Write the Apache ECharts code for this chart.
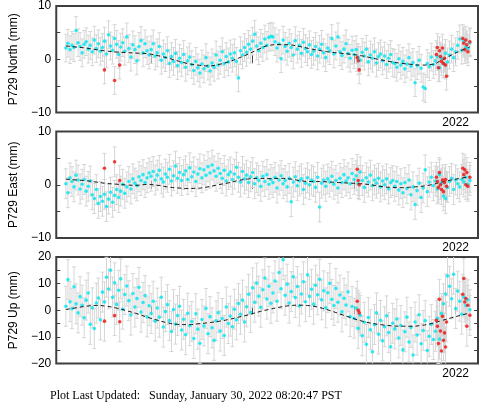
<!DOCTYPE html>
<html><head><meta charset="utf-8">
<script src="https://cdn.jsdelivr.net/npm/echarts@6/dist/echarts.min.js"></script>
<style>html,body{margin:0;padding:0;background:#fff}#c{width:481px;height:404px}</style>
</head><body><div id="c"></div>
<script>
// ---- data (decimal years, mm) ----
const times = [
2018.16,2018.18,2018.20,2018.22,2018.24,2018.26,2018.28,2018.30,2018.32,2018.34,2018.36,2018.38,2018.40,2018.42,2018.44,2018.46,2018.48,2018.50,2018.52,2018.54,2018.56,2018.58,2018.60,2018.62,2018.64,2018.66,2018.68,2018.70,2018.72,2018.74,2018.76,2018.78,2018.80,2018.82,2018.84,2018.86,2018.88,2018.90,2018.92,2018.94,2018.96,2018.98,
2019.00,2019.02,2019.04,2019.06,2019.08,2019.10,2019.12,2019.14,2019.16,2019.18,2019.20,2019.22,2019.24,2019.26,2019.28,2019.30,2019.32,2019.34,2019.36,2019.38,2019.40,2019.42,2019.44,2019.46,2019.48,2019.50,2019.52,2019.54,2019.56,2019.58,2019.60,2019.62,2019.64,2019.66,2019.68,2019.70,2019.72,2019.74,2019.76,2019.78,2019.80,2019.82,2019.84,2019.86,2019.88,2019.90,2019.92,2019.94,2019.96,2019.98,
2020.00,2020.02,2020.04,2020.06,2020.08,2020.10,2020.12,2020.14,2020.16,2020.18,2020.20,2020.22,2020.24,2020.26,2020.28,2020.30,2020.32,2020.34,2020.36,2020.38,2020.40,2020.42,2020.44,2020.46,2020.48,2020.50,2020.52,2020.54,2020.56,2020.58,2020.60,2020.62,2020.64,2020.66,2020.68,2020.70,2020.72,2020.74,2020.76,2020.78,2020.80,2020.82,2020.84,2020.86,2020.88,2020.90,2020.92,2020.94,2020.96,2020.98,
2021.00,2021.02,2021.04,2021.06,2021.08,2021.10,2021.12,2021.14,2021.16,2021.18,2021.20,2021.22,2021.24,2021.26,2021.28,2021.30,2021.32,2021.34,2021.36,2021.38,2021.40,2021.42,2021.44,2021.46,2021.48,2021.50,2021.52,2021.54,2021.56,2021.58,2021.60,2021.62,2021.64,2021.66,2021.68,2021.70,2021.72,2021.74,2021.76,2021.78,2021.80,2021.82,2021.84,2021.86,2021.88,2021.90,2021.92,2021.94,2021.96,2021.98,
2022.00,2022.02,2022.04,2022.06,2022.08,2022.10,2022.12,2022.14];

const north = [
2.1,3.0,1.8,2.6,2.2,5.4,3.1,2.4,1.2,2.8,3.3,1.9,2.6,1.4,3.6,2.0,2.9,1.5,
2.2,3.4,1.0,4.6,2.5,1.7,3.9,2.8,0.9,2.3,3.1,1.5,4.2,2.0,0.4,2.7,1.8,-0.3,2.4,3.5,1.2,2.9,1.6,0.8,
1.8,2.9,0.6,1.2,2.4,-0.2,1.0,0.3,1.6,-0.8,0.5,-0.4,1.1,-1.2,0.2,-0.6,0.9,-1.5,-0.3,0.4,
-1.0,-2.1,-0.4,-1.6,-2.6,-0.9,-1.8,0.3,-1.3,-2.2,-0.7,-1.5,0.8,-1.1,-0.2,1.4,-0.8,0.5,-0.5,1.0,
0.2,1.2,-0.4,-3.5,1.6,0.8,2.2,1.3,2.8,1.9,3.4,4.7,2.5,1.6,3.0,2.2,3.8,2.6,4.1,4.3,
4.2,3.3,2.1,2.9,0.1,3.6,2.4,1.5,3.0,2.2,0.8,3.5,1.9,2.6,1.1,3.2,2.0,1.4,2.7,0.9,
1.5,2.4,0.6,1.9,2.8,1.2,0.3,2.1,1.6,3.9,1.0,2.5,4.2,1.4,0.7,1.9,2.9,1.1,0.2,1.7,
0.9,1.8,0.3,-0.2,1.3,0.6,1.9,-0.5,0.8,0.2,1.4,-0.7,0.5,1.0,-0.3,0.6,-1.0,0.2,0.9,-0.6,
-0.8,-1.5,0.1,-1.1,-0.4,-1.8,-0.9,0.3,-1.3,-0.6,-4.4,-1.2,-0.2,-1.7,-5.2,-5.5,-0.8,-1.4,0.4,-1.0,
-0.3,0.5,-1.6,0.2,-0.9,1.1,-0.5,0.8,1.9,0.3,1.4,2.6,3.8,1.7,3.4,2.3,2.0,3.1];

const east = [
0.2,-1.5,1.3,0.6,-0.4,1.8,0.9,-0.8,0.1,1.0,-1.2,-0.3,0.7,-1.9,-2.6,-0.9,-3.5,-2.2,
-3.1,-1.8,-4.1,-2.7,-1.4,-3.3,-2.0,-0.9,-2.4,-1.2,0.1,-1.6,-0.4,0.6,-0.8,1.1,0.3,-0.2,1.5,0.8,1.9,0.4,1.3,2.2,
1.6,2.5,0.9,1.8,2.7,1.1,0.5,2.0,1.4,2.9,0.7,1.7,3.5,1.2,2.3,0.8,1.9,2.6,1.0,3.2,
1.5,2.4,0.6,2.0,3.0,1.3,2.8,1.8,3.4,2.2,3.7,2.6,1.6,3.1,2.1,1.2,2.7,0.7,1.9,2.4,
1.0,2.0,3.3,1.4,0.5,2.5,1.1,1.8,0.4,1.5,2.3,0.2,1.3,0.8,-0.3,1.6,0.6,1.9,0.1,1.0,
0.4,1.4,-0.6,0.9,1.7,0.2,0.8,-0.4,1.2,-3.2,0.5,1.5,-0.2,0.7,1.1,-0.9,0.3,1.3,0.0,0.9,
0.6,-0.5,1.4,-4.2,0.3,0.9,-0.3,1.1,0.5,1.6,0.1,0.8,-0.6,1.2,0.4,1.9,0.7,1.3,0.2,2.1,
1.0,1.7,0.2,2.4,0.8,-0.5,1.3,0.5,1.8,-0.2,0.9,0.3,1.2,-0.4,0.7,0.0,1.1,-0.8,0.4,0.8,
-0.3,0.6,-1.0,0.2,-1.5,0.4,-0.7,0.9,-1.9,-0.4,-3.7,-1.1,0.3,-2.4,-0.6,2.8,-1.3,0.5,1.4,-0.2,
0.7,-0.8,1.9,0.3,-2.1,-2.6,-0.5,0.6,1.2,-0.9,0.9,0.2,-0.4,1.0,0.5,1.4,0.1,0.8];

const up = [
1.5,11.5,3.2,0.6,8.8,2.4,-1.0,5.1,1.9,-2.8,3.8,6.5,-5.3,0.9,-6.9,2.7,4.6,-3.6,
6.8,3.1,12.4,8.0,15.0,4.9,10.3,2.2,7.5,11.8,0.4,5.9,9.1,3.6,-1.8,6.3,1.2,4.4,8.6,-0.7,2.9,5.5,-2.5,1.7,
-1.2,3.4,-4.1,0.8,-2.6,4.9,-6.3,-0.5,2.1,-3.9,-8.0,0.3,-5.2,-2.0,1.5,-7.4,-3.4,-9.2,-1.1,-5.8,
-4.2,-10.6,-1.3,-7.1,-12.4,-3.5,-5.9,0.7,-8.8,-2.4,-6.6,-11.3,-4.0,-0.9,-7.8,-3.1,-9.5,1.2,-5.0,-2.2,
-6.2,0.4,-3.6,2.5,-1.5,3.8,-4.4,1.3,6.0,-0.8,8.4,3.0,10.2,5.3,1.1,7.7,12.1,4.2,9.0,2.6,
6.5,11.0,3.4,14.2,8.1,19.0,5.6,9.8,2.7,7.0,12.6,4.8,8.9,1.6,6.1,10.7,3.2,13.3,5.2,7.9,
2.3,9.4,5.8,11.6,3.9,7.3,0.9,6.6,10.1,4.1,1.8,8.2,3.0,5.7,-0.6,4.5,2.0,6.9,-2.4,1.4,
-3.0,0.8,-6.8,-1.9,-9.6,-4.5,-12.8,-2.7,-7.3,-15.6,-5.4,-1.0,-9.0,-3.8,-11.5,-6.2,-2.1,-8.4,-13.7,-4.9,
-7.0,-3.3,-10.4,-5.7,-14.9,-8.1,-2.6,-11.9,-6.5,-16.8,-4.4,-9.3,-1.7,-12.6,-7.6,-3.9,-15.1,-9.8,-5.3,-11.0,
-7.9,-3.0,-10.8,-1.2,2.4,6.1,12.9,9.0,4.3,13.5,0.6,7.2,3.4,-1.5,5.0,1.8,3.9,0.2];

// rapid (red) solutions
const redTimes = [2018.54,2018.64,2018.69,2021.03,2021.04,2021.05,2021.81,2021.82,2021.83,2021.84,2021.85,2021.86,2021.87,2021.88,2021.89,2021.90,2021.91,2022.07,2022.08,2022.09,2022.10,2022.11,2022.12,2022.14];
const redNorth = [-2.0,-4.0,-1.1,0.3,-0.3,-2.0,0.9,2.2,-1.6,1.6,0.5,-0.4,2.1,-0.8,0.2,-1.1,-3.2,3.9,3.0,1.8,3.6,2.7,1.4,3.3];
const redEast  = [3.1,4.3,0.8,2.9,0.8,0.0,1.4,0.6,-0.5,2.3,0.0,-0.9,0.9,-1.3,0.4,1.0,-0.3,3.1,1.9,2.8,0.0,2.3,-0.3,1.4];
const redUp    = [-4.1,-2.0,-4.3,3.4,0.0,-1.0,-3.8,-6.0,-12.5,4.1,-7.8,-15.3,-2.3,-11.3,-8.5,-13.8,-4.4,6.0,11.9,3.1,4.4,-6.0,1.9,-1.9];

// model curves
const modelTimes = [2018.16,2018.26,2018.36,2018.46,2018.56,2018.66,2018.76,2018.86,2018.96,2019.06,2019.16,2019.26,2019.36,2019.46,2019.56,2019.66,2019.76,2019.86,2019.96,2020.06,2020.16,2020.26,2020.36,2020.46,2020.56,2020.66,2020.76,2020.86,2020.96,2021.06,2021.16,2021.26,2021.36,2021.46,2021.56,2021.66,2021.76,2021.86,2021.96,2022.06,2022.14];
const modelNorth = [2.5,2.3,2.1,1.8,1.55,1.35,1.25,1.15,1.05,0.7,0.25,-0.3,-0.8,-1.1,-1.25,-1.0,-0.5,0.2,1.0,1.9,2.6,2.75,2.7,2.4,2.0,1.65,1.35,1.15,0.95,0.7,0.3,-0.1,-0.45,-0.75,-0.95,-1.1,-1.0,-0.2,0.8,1.7,2.3];
const modelEast  = [1.05,0.9,0.75,0.5,0.25,0.1,-0.05,-0.1,0.05,-0.1,-0.4,-0.6,-0.7,-0.65,-0.4,0.0,0.35,0.8,1.1,1.2,1.15,1.2,1.1,0.8,0.6,0.6,0.5,0.4,0.3,0.2,0.0,-0.3,-0.5,-0.55,-0.45,-0.3,0.0,0.5,0.9,1.25,1.55];
const modelUp    = [0.3,0.9,1.5,1.8,1.5,0.8,-0.2,-1.3,-2.6,-3.7,-4.7,-5.3,-5.4,-5.1,-4.7,-4.2,-3.5,-2.6,-1.7,-0.6,0.3,1.1,1.7,1.9,1.7,1.0,-0.1,-1.4,-2.7,-3.9,-4.8,-5.4,-5.8,-6.0,-6.0,-5.7,-5.0,-3.9,-2.8,-1.8,-1.0];

// 1-sigma uncertainties (mm)
const northSigma = 2.6, eastSigma = 2.8, upSigma = 7.5;

const axisNames = ['P729 North (mm)','P729 East (mm)','P729 Up (mm)'];
const yRanges = [[-10,10],[-10,10],[-20,20]];
const yearTicks = [2019,2020,2021,2022];
const yearLabels = [2022];
const footer = 'Plot Last Updated:   Sunday, January 30, 2022 08:20:47 PST';

// ---- build chart ----
const X_MIN = 2018.065, X_MAX = 2022.22;
const FONT = 'Liberation Sans, Arial, sans-serif';
const FRAME = '#3f3f3f';
const gridTops = [6, 131.5, 257];
const GRID_H = 106.5;

const panels = [
  {vals: north, red: redNorth, model: modelNorth, sigma: northSigma},
  {vals: east,  red: redEast,  model: modelEast,  sigma: eastSigma},
  {vals: up,    red: redUp,    model: modelUp,    sigma: upSigma}
];

const grid = [], xAxis = [], yAxis = [], series = [];

function errRender(params, api) {
  const cs = params.coordSys;
  const x = api.value(0), lo = api.value(1), hi = api.value(2);
  const p1 = api.coord([x, hi]), p2 = api.coord([x, lo]);
  const top = cs.y, bot = cs.y + cs.height;
  const y1 = Math.max(top, p1[1]), y2 = Math.min(bot, p2[1]);
  const style = {stroke: '#d6d6d6', lineWidth: 1};
  const ch = [{type: 'line', shape: {x1: p1[0], y1: y1, x2: p1[0], y2: y2}, style}];
  if (p1[1] >= top) ch.push({type: 'line', shape: {x1: p1[0] - 2, y1: p1[1], x2: p1[0] + 2, y2: p1[1]}, style});
  if (p2[1] <= bot) ch.push({type: 'line', shape: {x1: p2[0] - 2, y1: p2[1], x2: p2[0] + 2, y2: p2[1]}, style});
  return {type: 'group', children: ch};
}

panels.forEach((p, i) => {
  grid.push({left: 48, right: 3, top: gridTops[i], height: GRID_H, show: true,
    borderColor: FRAME, borderWidth: 2, backgroundColor: 'transparent'});
  const tickStyle = {show: true, inside: true, length: 4, lineStyle: {color: FRAME, width: 1}};
  xAxis.push({type: 'value', gridIndex: i, min: X_MIN, max: X_MAX, position: 'bottom',
    axisLine: {show: false}, splitLine: {show: false},
    axisTick: Object.assign({customValues: yearTicks}, tickStyle),
    axisLabel: {customValues: yearLabels, margin: 4, color: '#000', fontSize: 12, fontFamily: FONT,
      formatter: v => String(Math.round(v))}});
  xAxis.push({type: 'value', gridIndex: i, min: X_MIN, max: X_MAX, position: 'top',
    axisLine: {show: false}, splitLine: {show: false},
    axisTick: Object.assign({customValues: yearTicks}, tickStyle),
    axisLabel: {show: false}});
  const [ymin, ymax] = yRanges[i];
  yAxis.push({type: 'value', gridIndex: i, min: ymin, max: ymax, interval: 5, position: 'left',
    axisLine: {show: false}, splitLine: {show: false}, axisTick: tickStyle,
    name: axisNames[i], nameLocation: 'middle', nameGap: 34,
    nameTextStyle: {color: '#000', fontSize: 12, fontFamily: FONT},
    axisLabel: {margin: 5, color: '#000', fontSize: 12, fontFamily: FONT,
      formatter: v => (v % 10 === 0 ? String(v).replace('-', '\u2212') : '')}});
  yAxis.push({type: 'value', gridIndex: i, min: ymin, max: ymax, interval: 5, position: 'right',
    axisLine: {show: false}, splitLine: {show: false}, axisTick: tickStyle, axisLabel: {show: false}});

  const xi = i * 2, yi = i * 2;
  series.push({type: 'custom', xAxisIndex: xi, yAxisIndex: yi, z: 1, silent: true,
    encode: {x: 0, y: [1, 2]}, renderItem: errRender,
    data: times.map((t, k) => [t, p.vals[k] - p.sigma, p.vals[k] + p.sigma])});
  series.push({type: 'custom', xAxisIndex: xi, yAxisIndex: yi, z: 1, silent: true,
    encode: {x: 0, y: [1, 2]}, renderItem: errRender,
    data: redTimes.map((t, k) => [t, p.red[k] - p.sigma, p.red[k] + p.sigma])});
  series.push({type: 'scatter', xAxisIndex: xi, yAxisIndex: yi, z: 2, silent: true,
    symbol: 'circle', symbolSize: 3.6, itemStyle: {color: '#00e6f0'},
    data: times.map((t, k) => [t, p.vals[k]])});
  series.push({type: 'line', xAxisIndex: xi, yAxisIndex: yi, z: 3, silent: true,
    showSymbol: false, smooth: true,
    lineStyle: {color: '#111', width: 1, type: [4, 3]},
    data: modelTimes.map((t, k) => [t, p.model[k]])});
  series.push({type: 'scatter', xAxisIndex: xi, yAxisIndex: yi, z: 4, silent: true,
    symbol: 'circle', symbolSize: 3.6, itemStyle: {color: '#f01010'},
    data: redTimes.map((t, k) => [t, p.red[k]])});
});

const chart = echarts.init(document.getElementById('c'), null, {renderer: 'canvas'});
chart.setOption({
  animation: false,
  backgroundColor: '#fff',
  grid, xAxis, yAxis, series,
  graphic: [{type: 'text', left: 50, top: 390,
    style: {text: footer, fill: '#000', font: '12px "Liberation Serif", "Times New Roman", serif'}}]
});
</script></body></html>
